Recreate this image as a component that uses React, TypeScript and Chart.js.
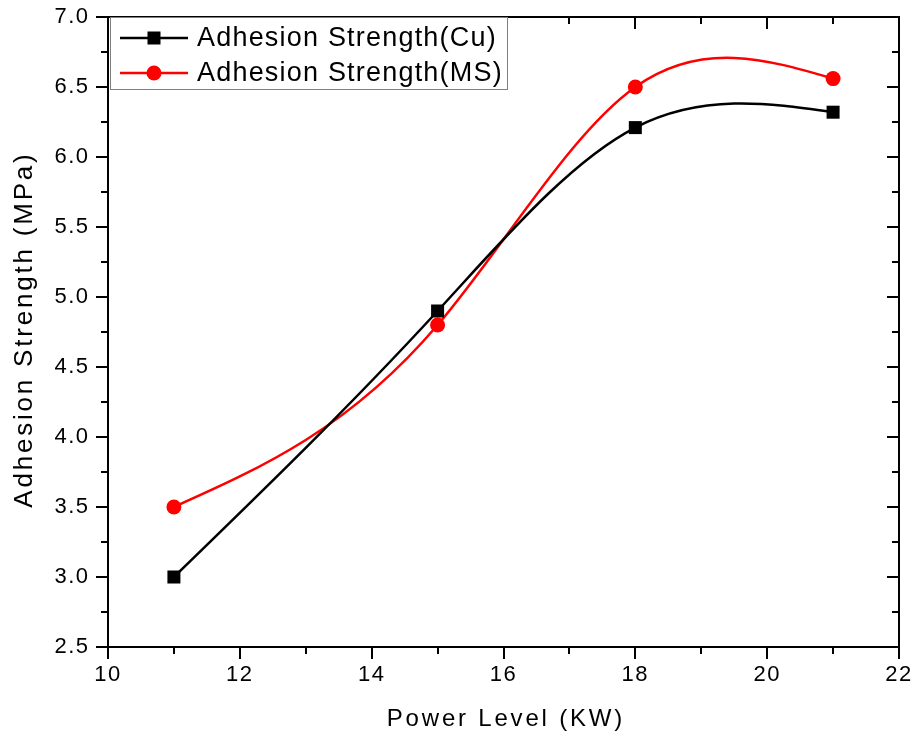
import React, { useEffect, useRef } from 'react';
import { Chart, registerables } from 'chart.js';

Chart.register(...registerables);

// ---- data ----
const powerLevels = [11, 15, 18, 21];
const cuStrength = [3.0, 4.9, 6.21, 6.32];
const msStrength = [3.5, 4.8, 6.5, 6.56];
const seriesLabels = ['Adhesion Strength(Cu)', 'Adhesion Strength(MS)'];
const seriesColors = ['#000000', '#ff0000'];
const xTitle = 'Power Level (KW)';
const yTitle = 'Adhesion Strength (MPa)';
const xRange = [10, 22];
const xMajorStep = 2;
const xMinorStep = 1;
const yRange = [2.5, 7.0];
const yMajorStep = 0.5;
const yMinorStep = 0.25;

const FONT = "'Liberation Sans', Arial, Helvetica, sans-serif";
const W = 912;
const H = 739;

const isMajor = (v: number, step: number) => Math.abs(v / step - Math.round(v / step)) < 1e-6;

// Natural cubic spline (like Origin's "Spline" connection) expressed as bezier control points
function applyNaturalSpline(points: any[]) {
  const n = points.length;
  if (n < 3) return;
  const xs = points.map((p) => p.x);
  const ys = points.map((p) => p.y);
  const h: number[] = [];
  for (let i = 0; i < n - 1; i++) h[i] = xs[i + 1] - xs[i];
  const M = new Array(n).fill(0);
  const cp: number[] = [];
  const dp: number[] = [];
  for (let i = 1; i < n - 1; i++) {
    const a = h[i - 1];
    const b = 2 * (h[i - 1] + h[i]);
    const c = h[i];
    const d = 6 * ((ys[i + 1] - ys[i]) / h[i] - (ys[i] - ys[i - 1]) / h[i - 1]);
    const denom = b - (i > 1 ? a * cp[i - 1] : 0);
    cp[i] = c / denom;
    dp[i] = (d - (i > 1 ? a * dp[i - 1] : 0)) / denom;
  }
  for (let i = n - 2; i >= 1; i--) M[i] = dp[i] - cp[i] * M[i + 1];
  for (let i = 0; i < n - 1; i++) {
    const hi = h[i];
    const s = (ys[i + 1] - ys[i]) / hi;
    const m0 = s - (hi * (2 * M[i] + M[i + 1])) / 6;
    const m1 = s + (hi * (M[i] + 2 * M[i + 1])) / 6;
    points[i].cp2x = xs[i] + hi / 3;
    points[i].cp2y = ys[i] + (m0 * hi) / 3;
    points[i + 1].cp1x = xs[i + 1] - hi / 3;
    points[i + 1].cp1y = ys[i + 1] - (m1 * hi) / 3;
  }
}

const framePlugin = {
  id: 'frameTicks',
  beforeDraw(chart: any) {
    // slightly wider tick label text, as in the reference
    (chart.ctx as any).letterSpacing = '1.5px';
  },
  beforeDatasetsDraw(chart: any) {
    const { ctx, chartArea, scales } = chart;
    (ctx as any).letterSpacing = '0px';
    const { left, right, top, bottom } = chartArea;
    const xs = scales.x;
    const ys = scales.y;

    // spline shape of the connecting lines
    chart.data.datasets.forEach((_: any, i: number) => {
      const meta = chart.getDatasetMeta(i);
      if (meta.dataset && meta.dataset.updateControlPoints) {
        meta.dataset.updateControlPoints(chartArea, meta.indexAxis);
        applyNaturalSpline(meta.data);
      }
    });

    ctx.save();
    ctx.strokeStyle = '#000';
    ctx.lineWidth = 2;
    ctx.strokeRect(left, top, right - left, bottom - top);
    ctx.beginPath();
    for (let v = xRange[0]; v <= xRange[1] + 1e-9; v += xMinorStep) {
      const px = Math.round(xs.getPixelForValue(v));
      const len = isMajor(v, xMajorStep) ? 12 : 7;
      ctx.moveTo(px, bottom);
      ctx.lineTo(px, bottom + len);
      ctx.moveTo(px, top);
      ctx.lineTo(px, top + len);
    }
    for (let v = yRange[0]; v <= yRange[1] + 1e-9; v += yMinorStep) {
      const py = Math.round(ys.getPixelForValue(v));
      const len = isMajor(v, yMajorStep) ? 12 : 7;
      ctx.moveTo(left, py);
      ctx.lineTo(left - len, py);
      ctx.moveTo(right, py);
      ctx.lineTo(right - len, py);
    }
    ctx.stroke();

    // axis titles
    ctx.fillStyle = '#000';
    ctx.textAlign = 'center';
    ctx.textBaseline = 'middle';
    (ctx as any).letterSpacing = '2.8px';
    ctx.font = `24px ${FONT}`;
    ctx.fillText(xTitle, (left + right) / 2 + 2.4, 719);
    ctx.save();
    ctx.translate(25, (top + bottom) / 2 - 1);
    ctx.rotate(-Math.PI / 2);
    (ctx as any).letterSpacing = '2.8px';
    ctx.font = `26px ${FONT}`;
    ctx.fillText(yTitle, 1.4, 0);
    ctx.restore();
    (ctx as any).letterSpacing = '0px';
    ctx.restore();
  },
  afterDatasetsDraw(chart: any) {
    const { ctx, chartArea } = chart;
    const { left, top } = chartArea;
    ctx.save();
    const bx = left + 2;
    const by = top;
    const bw = 397;
    const bh = 72;
    ctx.fillStyle = '#fff';
    ctx.fillRect(bx, by + 1, bw, bh - 1);
    ctx.strokeStyle = '#808080';
    ctx.lineWidth = 1;
    ctx.strokeRect(bx + 0.5, by + 0.5, bw, bh);
    chart.data.datasets.forEach((ds: any, i: number) => {
      const cy = top + 21 + i * 35;
      ctx.strokeStyle = ds.borderColor;
      ctx.lineWidth = 2.5;
      ctx.beginPath();
      ctx.moveTo(left + 12, cy);
      ctx.lineTo(left + 80, cy);
      ctx.stroke();
      ctx.fillStyle = ds.pointBackgroundColor;
      if (ds.pointStyle === 'rect') {
        ctx.fillRect(left + 46 - 6.5, cy - 6.5, 13, 13);
      } else {
        ctx.beginPath();
        ctx.arc(left + 46, cy, 7.5, 0, Math.PI * 2);
        ctx.fill();
      }
      ctx.fillStyle = '#000';
      ctx.font = `27px ${FONT}`;
      (ctx as any).letterSpacing = '1.2px';
      ctx.textAlign = 'left';
      ctx.textBaseline = 'middle';
      ctx.fillText(ds.label, left + 89, cy + 1);
      (ctx as any).letterSpacing = '0px';
    });
    ctx.restore();
  },
};

export default function App() {
  const canvasRef = useRef<HTMLCanvasElement | null>(null);

  useEffect(() => {
    if (!canvasRef.current) return;
    const mk = (vals: number[]) => powerLevels.map((x, i) => ({ x, y: vals[i] }));
    const chart = new Chart(canvasRef.current, {
      type: 'line',
      data: {
        datasets: [
          {
            label: seriesLabels[0],
            data: mk(cuStrength),
            borderColor: seriesColors[0],
            backgroundColor: seriesColors[0],
            pointBackgroundColor: seriesColors[0],
            pointBorderColor: seriesColors[0],
            pointStyle: 'rect',
            pointRadius: 9.2,
            pointBorderWidth: 0,
            borderWidth: 2.5,
            tension: 0.4,
            fill: false,
          },
          {
            label: seriesLabels[1],
            data: mk(msStrength),
            borderColor: seriesColors[1],
            backgroundColor: seriesColors[1],
            pointBackgroundColor: seriesColors[1],
            pointBorderColor: seriesColors[1],
            pointStyle: 'circle',
            pointRadius: 7.5,
            pointBorderWidth: 0,
            borderWidth: 2.5,
            tension: 0.4,
            fill: false,
          },
        ],
      },
      options: {
        animation: false,
        responsive: false,
        maintainAspectRatio: false,
        layout: { padding: { left: 0, right: 13, top: 17, bottom: 0 } },
        plugins: {
          legend: { display: false },
          tooltip: { enabled: false },
          title: { display: false },
        },
        scales: {
          x: {
            type: 'linear',
            min: xRange[0],
            max: xRange[1],
            ticks: {
              stepSize: xMajorStep,
              color: '#000',
              font: { family: FONT, size: 22 },
              padding: 15,
              maxRotation: 0,
            },
            grid: { display: false, drawTicks: false },
            border: { display: false },
            afterFit(s: any) {
              s.height = 92;
              s.paddingLeft = 0;
              s.paddingRight = 0;
            },
          },
          y: {
            type: 'linear',
            min: yRange[0],
            max: yRange[1],
            ticks: {
              stepSize: yMajorStep,
              color: '#000',
              font: { family: FONT, size: 22 },
              padding: 18.5,
              callback: (v: any) => Number(v).toFixed(1),
            },
            grid: { display: false, drawTicks: false },
            border: { display: false },
            afterFit(s: any) {
              s.width = 108;
              s.paddingTop = 0;
              s.paddingBottom = 0;
            },
          },
        },
      },
      plugins: [framePlugin],
    });
    return () => chart.destroy();
  }, []);

  return (
    <div style={{ position: 'fixed', left: 0, top: 0, width: W, height: H, background: '#fff' }}>
      <canvas ref={canvasRef} width={W} height={H} style={{ width: W, height: H, display: 'block' }} />
    </div>
  );
}
